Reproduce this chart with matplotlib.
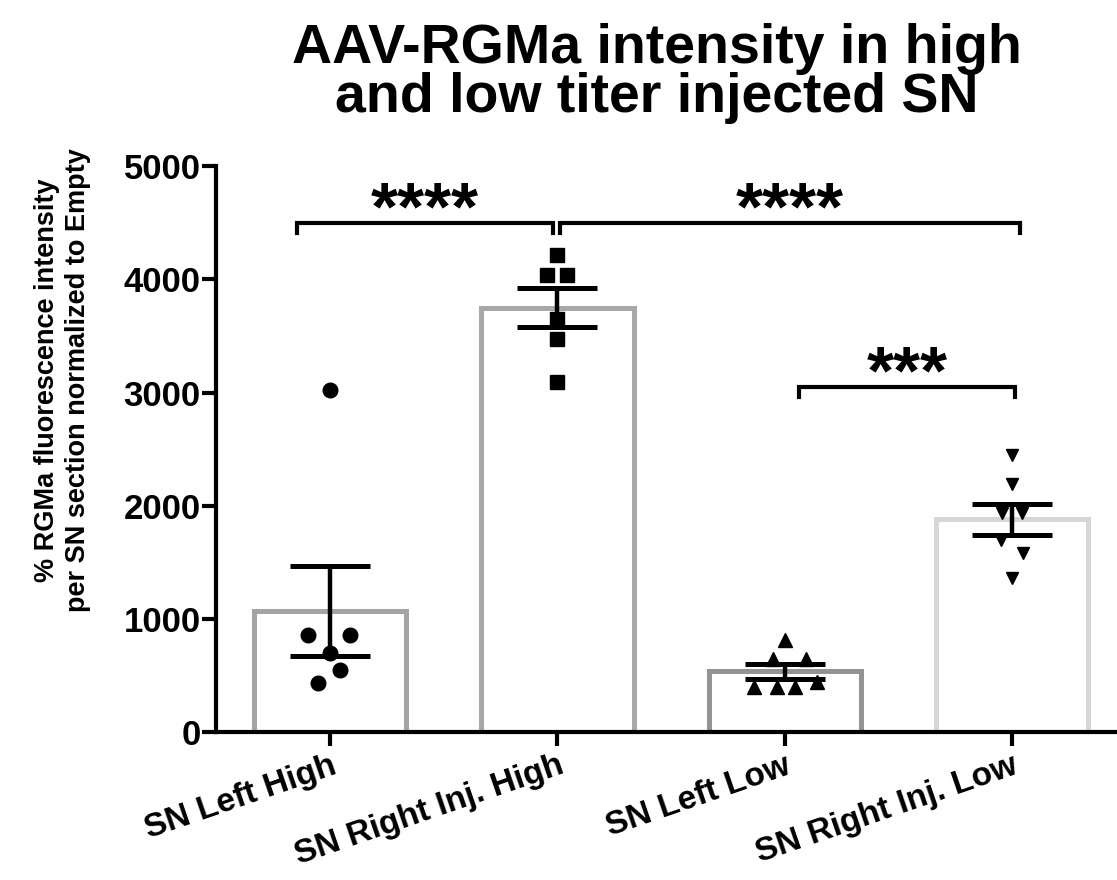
import numpy as np
import matplotlib
matplotlib.use("Agg")
import matplotlib.pyplot as plt

plt.rcParams["font.family"] = ["Liberation Sans", "DejaVu Sans"]

# group names and individual values
groups = ["SN Left High", "SN Right Inj. High", "SN Left Low", "SN Right Inj. Low"]
left_high = [3020, 860, 860, 700, 550, 430]
right_high = [4220, 4040, 4040, 3650, 3470, 3090]
left_low = [815, 650, 650, 440, 400, 400, 400]
right_low = [2450, 2190, 1940, 1940, 1700, 1580, 1360]

# horizontal scatter of the points inside each column (category units)
jitter_left_high = [0, -0.097, 0.088, 0, 0.044, -0.053]
jitter_right_high = [0, -0.044, 0.044, 0, 0, 0]
jitter_left_low = [0, -0.05, 0.095, 0.14, -0.137, -0.035, 0.044]
jitter_right_low = [0, 0, -0.044, 0.044, -0.048, 0.048, 0]

# significance brackets: (x1, x2, height, label)
brackets = [(-0.145, 0.982, 4500, "****"),
            (1.013, 3.035, 4500, "****"),
            (2.062, 3.013, 3050, "***")]

series = [left_high, right_high, left_low, right_low]
jitters = [jitter_left_high, jitter_right_high, jitter_left_low, jitter_right_low]
markers = ["o", "s", "^", "v"]
msizes = [10.5, 9.5, 10, 9]
edge_colors = ["#a4a4a4", "#a8a8a8", "#939393", "#d6d6d6"]


def main():
    fig = plt.figure(figsize=(11.17, 8.8), dpi=100)
    ax = fig.add_axes([216 / 1117, 0.168, 901 / 1117, 0.643])

    x = np.arange(len(groups))
    means = [np.mean(v) for v in series]
    sems = [np.std(v, ddof=1) / np.sqrt(len(v)) for v in series]

    ax.bar(x, means, width=0.67, color="white", edgecolor=edge_colors,
           linewidth=3.6, zorder=1)

    for i, (vals, jit) in enumerate(zip(series, jitters)):
        ax.plot(i + np.array(jit), vals, linestyle="none", marker=markers[i],
                ms=msizes[i], color="black", zorder=3)

    ax.errorbar(x, means, yerr=sems, fmt="none", ecolor="black",
                elinewidth=3.2, capsize=29, capthick=3.6, zorder=4)

    for x1, x2, h, label in brackets:
        drop = 90
        ax.plot([x1, x1, x2, x2], [h - drop, h, h, h - drop], color="black",
                lw=3, solid_joinstyle="miter", zorder=5, clip_on=False)
        ax.text((x1 + x2) / 2, h - 60, label, ha="center", va="baseline",
                fontsize=50, fontweight="bold", zorder=5)

    ax.set_xlim(-0.502, 3.462)
    ax.set_ylim(0, 5000)
    ax.set_yticks([0, 1000, 2000, 3000, 4000, 5000])
    ax.set_xticks(x)
    ax.set_xticklabels(groups, rotation=19, ha="right", rotation_mode="anchor",
                       fontsize=24, fontweight="bold")
    for lab in ax.get_yticklabels():
        lab.set_fontsize(25)
        lab.set_fontweight("bold")

    ax.spines["top"].set_visible(False)
    ax.spines["right"].set_visible(False)
    ax.spines["left"].set_linewidth(3)
    ax.spines["bottom"].set_linewidth(3)
    ax.tick_params(axis="both", length=10, width=3)
    ax.tick_params(axis="y", pad=1)
    ax.tick_params(axis="x", pad=3)

    fig.text(63 / 1117, 1 - 380 / 880,
             "% RGMa fluorescence intensity\nper SN section normalized to Empty",
             rotation=90, ha="center", va="center", multialignment="center",
             fontsize=19.5, fontweight="bold", linespacing=1.25)

    fig.text(0.588, 1 - 63 / 880, "AAV-RGMa intensity in high",
             ha="center", va="baseline", fontsize=40, fontweight="bold")
    fig.text(0.588, 1 - 112 / 880, "and low titer injected SN",
             ha="center", va="baseline", fontsize=40, fontweight="bold")

    fig.savefig("out.png", dpi=100)


if __name__ == "__main__":
    main()
